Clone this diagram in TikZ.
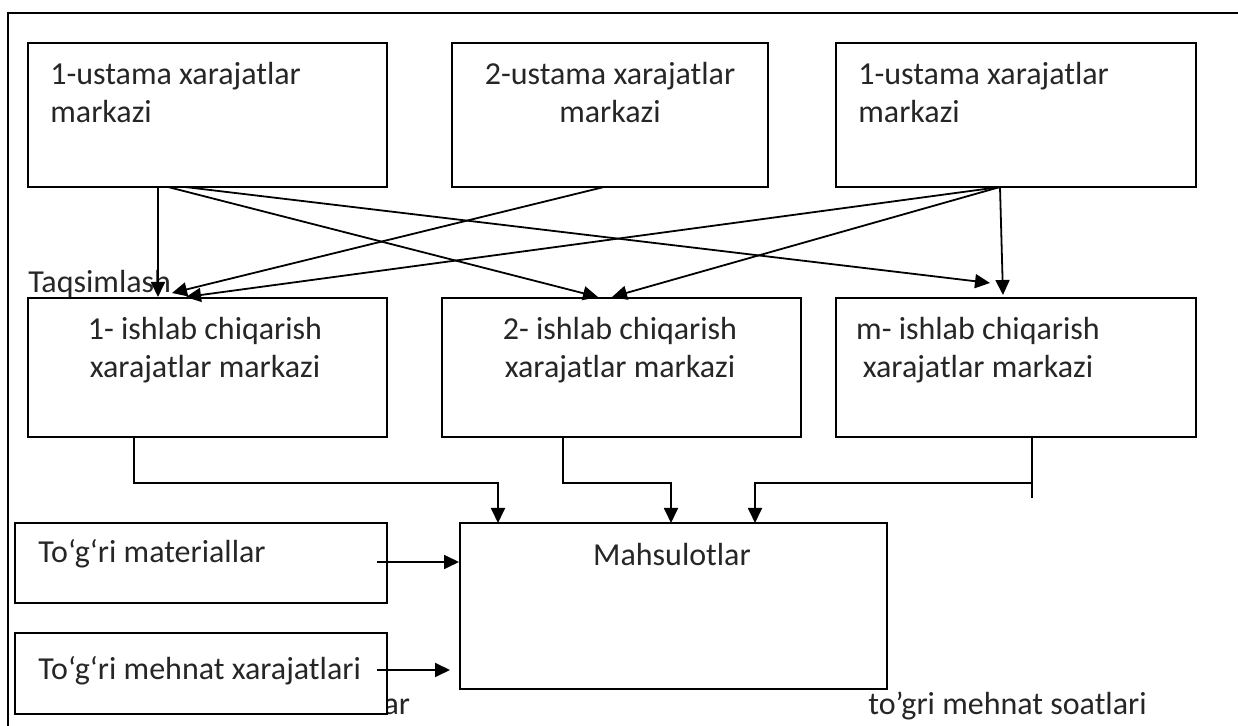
\documentclass[tikz,border=0pt]{standalone}
\usepackage{fontspec}
\setmainfont{Carlito}
\usetikzlibrary{arrows.meta}
\begin{document}
\begin{tikzpicture}[x=0.5pt, y=-0.5pt,
    box/.style={rectangle, draw=black, line width=1pt, fill=white, inner sep=0pt},
    txt/.style={inner sep=0pt, text=black!85, font=\fontsize{16}{18.7}\selectfont},
    arr/.style={draw=black, line width=0.9pt, -{Triangle[length=7.5pt, width=7pt]}},
    ln/.style={draw=black, line width=0.9pt}]
				\useasboundingbox (0,0) rectangle (1238,726);
				\path[ln, line width=1pt] (1238,13) -- (8,13) -- (8,726);
				
				% text partly hidden behind the labour box
				\node[txt, anchor=base west] (mash) at (183,715) {mashina\hspace{14pt}soatlar};
				\node[txt, anchor=base west] (soat) at (868,715) {to’gri mehnat soatlari};
				
				\node[box, minimum width=179.5pt, minimum height=72pt] (u1) at (207.5,115){};
				\node[box, minimum width=158pt, minimum height=72pt] (u2) at (610,115){};
				\node[box, minimum width=180pt, minimum height=72pt] (u3) at (1016,115){};
				
				\node[box, minimum width=179.5pt, minimum height=69.5pt] (i1) at (207.5,367.5){};
				\node[box, minimum width=179.5pt, minimum height=69.5pt] (i2) at (621.5,367.5){};
				\node[box, minimum width=180pt, minimum height=69.5pt] (i3) at (1016,367.5){};
				
				\node[box, minimum width=213.5pt, minimum height=83pt] (mahs) at (673.5,606){};
				\node[box, minimum width=186pt, minimum height=40pt] (mat) at (201,563){};
				\node[box, minimum width=186pt, minimum height=40.5pt] (meh) at (201,673.5){};
				
				\node[txt, anchor=north west, align=left] (u1t) at (50,62){1-ustama xarajatlar\\markazi};
				\node[txt, anchor=north, align=center] (u2t) at (610,62){2-ustama xarajatlar\\markazi};
				\node[txt, anchor=north west, align=left] (u3t) at (858,62){1-ustama xarajatlar\\markazi};
				
				\node[txt, anchor=north, align=center] (i1t) at (205,317){1- ishlab chiqarish\\xarajatlar markazi};
				\node[txt, anchor=north, align=center] (i2t) at (620,317){2- ishlab chiqarish\\xarajatlar markazi};
				\node[txt, anchor=north, align=center] (i3t) at (978,317){m- ishlab chiqarish\\xarajatlar markazi};
				
				\node[txt, anchor=north] (mahst) at (672,543){Mahsulotlar};
				\node[txt, anchor=base west] (matt) at (38,563){To‘g‘ri materiallar};
				\node[txt, anchor=base west] (meht) at (38,680){To‘g‘ri mehnat xarajatlari};
				\node[txt, anchor=base west] (taqs) at (28,293){Taqsimlash};
				
				% start and end points of the connectors
				\coordinate (u1a) at (158,187);
				\coordinate (u1b) at (168,187);
				\coordinate (u1c) at (185,187);
				\coordinate (u2a) at (604,187);
				\coordinate (u3a) at (1000,187);
				\coordinate (i1a) at (158,297);
				\coordinate (i1b) at (172,293);
				\coordinate (i1c) at (186,297);
				\coordinate (i2a) at (598,297);
				\coordinate (i2b) at (612,297);
				\coordinate (i3a) at (990,283);
				\coordinate (i3b) at (1003,295);
				
				\path[arr] (u1a) -- (i1a);
				\path[arr] (u1b) -- (i2a);
				\path[arr] (u1c) -- (i3a);
				\path[arr] (u2a) -- (i1b);
				\path[arr] (u3a) -- (i1c);
				\path[arr] (u3a) -- (i2b);
				\path[arr] (u3a) -- (i3b);
				
				\coordinate (i1o) at (134,437);
				\coordinate (i2o) at (563,437);
				\coordinate (i3o) at (1032,437);
				\coordinate (i3e) at (1032,498);
				\coordinate (m1) at (498,523);
				\coordinate (m2) at (671,523);
				\coordinate (m3) at (755,523);
				
				\path[arr] (i1o) -- (134,483) -| (m1);
				\path[arr] (i2o) -- (563,483) -| (m2);
				\path[ln] (i3o) -- (i3e);
				\path[arr] (1032,483) -| (m3);
				
				\coordinate (matx) at (377,562);
				\coordinate (mehx) at (377,670);
				\path[arr] (matx) -- (matx -| mahs.west);
				\path[arr] (mehx) -- (450,670);
\end{tikzpicture}
\end{document}
